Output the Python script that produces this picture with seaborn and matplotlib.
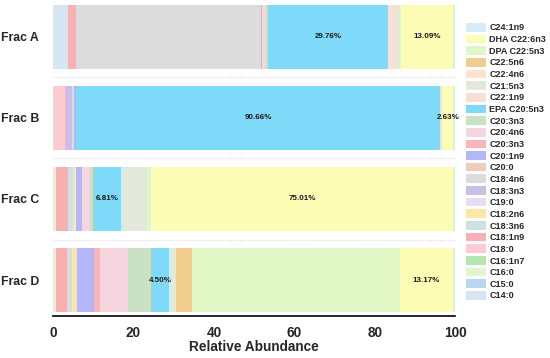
import pandas as pd
import matplotlib
matplotlib.use("Agg")
import matplotlib.pyplot as plt
import matplotlib.patches as mpatches
import seaborn as sns

# fractions (top to bottom)
fractions = ["Frac A", "Frac B", "Frac C", "Frac D"]

# fatty acids in stacking order (from 0 upwards), legend shows them reversed
fatty_acids = [
    "C14:0", "C15:0", "C16:0", "C16:1n7", "C18:0", "C18:1n9", "C18:3n6",
    "C18:2n6", "C19:0", "C18:3n3", "C18:4n6", "C20:0", "C20:1n9", "C20:3n3",
    "C20:4n6", "C20:3n3", "EPA C20:5n3", "C22:1n9", "C21:5n3", "C22:4n6",
    "C22:5n6", "DPA C22:5n3", "DHA C22:6n3", "C24:1n9",
]

# relative abundance (%) per fraction, same order as fatty_acids
frac_a = [3.75, 0, 0, 0, 0, 1.9, 0, 0, 0, 0, 46.0, 0, 0.4, 0, 0.9, 0.6,
          29.76, 1.9, 1.0, 0, 0, 0.3, 13.09, 0.4]
frac_b = [0, 0, 0, 0, 3.0, 0, 0, 0, 0, 1.8, 0.4, 0, 0.5, 0, 0, 0,
          90.66, 0, 0.5, 0, 0, 0, 2.63, 0.51]
frac_c = [0, 0, 0.7, 0, 0, 3.05, 1.25, 0.7, 0, 0, 0, 0, 1.4, 0, 2.1, 0.8,
          6.81, 0, 6.6, 0, 0, 1.0, 75.01, 0.58]
frac_d = [0, 0, 0.8, 0, 0, 2.7, 1.1, 0.8, 0.6, 0, 0, 0, 4.2, 1.5, 6.9, 5.8,
          4.50, 0, 1.7, 0, 4.0, 51.7, 13.17, 0.53]

# which components get a percentage label
labelled = ["EPA C20:5n3", "DHA C22:6n3"]

colors = [
    "#d5e6f3", "#b5d7f2", "#e0f4cf", "#b5e6b0", "#fcccd2", "#f8b0b2", "#cfe0e2",
    "#fde6a6", "#e8dcf0", "#cabdea", "#dcdcdc", "#f0cdb9", "#b3b6f7", "#f9b5b7",
    "#f6d4e0", "#c9e2c3", "#7fd9f9", "#f6e0d4", "#e2e9da", "#fde2d0",
    "#f0cd8d", "#e0f6c4", "#fdfcb5", "#d5eef5",
]

# long table with cumulative ends for stacking
rows = []
for frac, vals in zip(fractions, [frac_a, frac_b, frac_c, frac_d]):
    cum = 0
    for i, (fa, v) in enumerate(zip(fatty_acids, vals)):
        rows.append({"Fraction": frac, "idx": i, "Fatty acid": fa,
                     "value": v, "start": cum, "end": cum + v})
        cum += v
df = pd.DataFrame(rows)

sns.set_style("white")
plt.rcParams["font.family"] = ["Liberation Sans", "DejaVu Sans"]
plt.rcParams["font.weight"] = "bold"

fig = plt.figure(figsize=(5.5, 3.58), dpi=100)
ax = fig.add_axes([0.0964, 0.1173, 0.731, 0.883])

# draw cumulative bars from the top of the stack down so each layer shows
for i in reversed(range(len(fatty_acids))):
    layer = df[df["idx"] == i]
    sns.barplot(data=layer, x="end", y="Fraction", order=fractions, orient="h",
                color=colors[i], saturation=1, width=0.8, linewidth=0, ax=ax)

# percentage labels
for _, r in df[df["Fatty acid"].isin(labelled) & (df["idx"] >= 16)].iterrows():
    ypos = fractions.index(r["Fraction"])
    ax.text((r["start"] + r["end"]) / 2, ypos, f"{r['value']:.2f}%",
            ha="center", va="center", fontsize=5.8, fontweight="bold",
            color="#1a1a1a")

# dotted separators between fractions
for yy in [0.5, 1.5, 2.5]:
    ax.axhline(yy, color="#d8d8d8", linestyle=(0, (1, 1.5)), linewidth=0.8)

ax.set_xlim(0, 100)
ax.set_ylim(3.444, -0.457)
ax.set_xticks([0, 20, 40, 60, 80, 100])
ax.set_xlabel("Relative Abundance", fontsize=9.8, fontweight="bold", labelpad=0)
ax.set_ylabel("")
ax.tick_params(axis="x", direction="inout", length=7, width=1.2,
               labelsize=9.8, pad=4, color="black")
ax.tick_params(axis="y", length=0, labelsize=8.8, pad=10)
for lab in ax.get_yticklabels():
    lab.set_fontweight("bold")
for side in ["top", "right", "left"]:
    ax.spines[side].set_visible(False)
ax.spines["bottom"].set_color("black")
ax.spines["bottom"].set_linewidth(1.2)

# legend, top entry is the last stacked component
handles = [mpatches.Patch(facecolor=colors[i], edgecolor="none",
                          label=fatty_acids[i])
           for i in reversed(range(len(fatty_acids)))]
fig.legend(handles=handles, loc="upper left", bbox_to_anchor=(0.847, 0.936),
           frameon=False, handlelength=2.2, handleheight=1.1,
           labelspacing=0.25, handletextpad=0.4, borderaxespad=0, borderpad=0,
           prop={"weight": "bold", "size": 6.5})

fig.savefig("out.png", dpi=100)
